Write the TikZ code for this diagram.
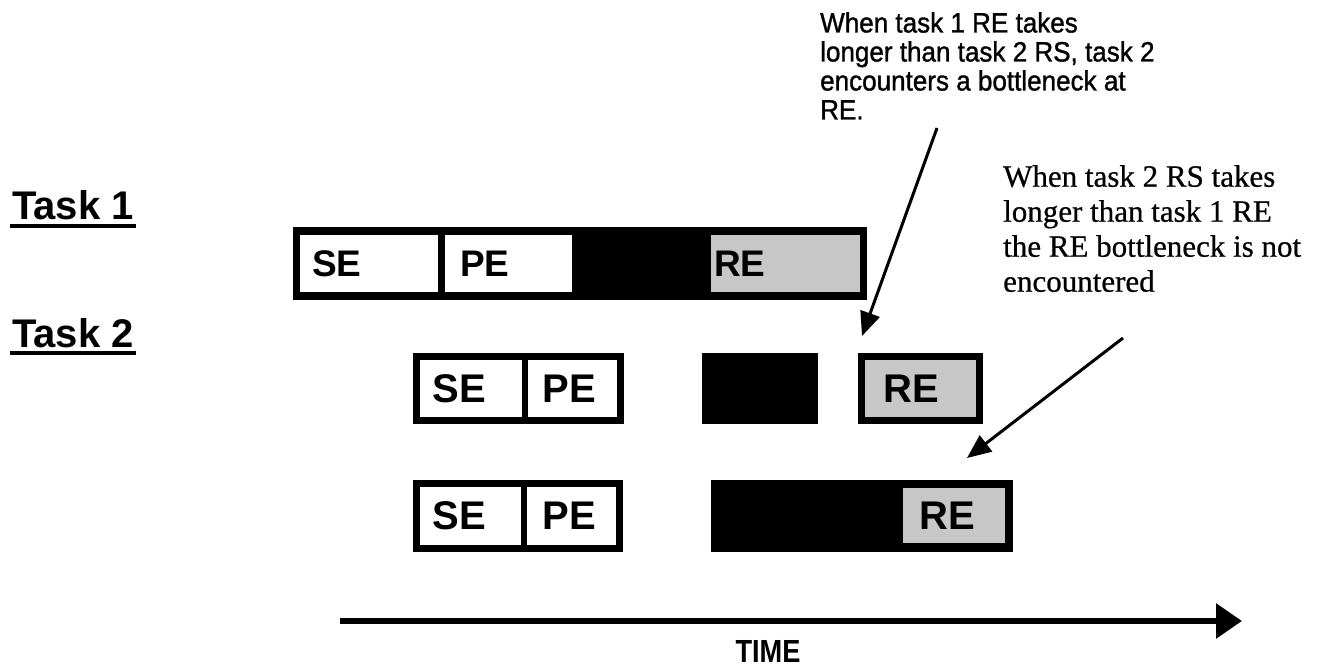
\documentclass[tikz,border=0pt]{standalone}
\usepackage{fontspec}
\setmainfont{Liberation Serif}
\setsansfont{Liberation Sans}
\newfontfamily\notefont[FakeStretch=0.93,FakeBold=1.2]{Liberation Sans}
\newfontfamily\noteserif[FakeBold=0.6]{Liberation Serif}
\newfontfamily\timefont[FakeStretch=0.85]{Liberation Sans}
\usetikzlibrary{arrows.meta}
\definecolor{regray}{gray}{0.78}
\begin{document}
\begin{tikzpicture}[x=1pt,y=-1pt,
  box/.style={fill=black, inner sep=0pt, outer sep=0pt},
  whitecell/.style={fill=white, inner sep=0pt, outer sep=0pt},
  recell/.style={fill=regray, inner sep=0pt, outer sep=0pt},
  lblA/.style={font=\sffamily\bfseries\fontsize{37}{37}\selectfont, inner sep=0pt},
  lblB/.style={font=\sffamily\bfseries\fontsize{40}{40}\selectfont, inner sep=0pt},
  tasklbl/.style={font=\sffamily\bfseries\fontsize{40}{40}\selectfont, inner sep=0pt, anchor=base west},
  pointer/.style={line width=3pt, -{Triangle[length=24pt,width=20pt]}},
]
\useasboundingbox (0,0) rectangle (1326,671);

% task labels
\node[tasklbl] (task1) at (12,220) {Task 1};
\draw[line width=4pt] ([yshift=-6pt,xshift=-2pt]task1.base west) -- ([yshift=-6pt,xshift=2pt]task1.base east);
\node[tasklbl] (task2) at (12,347) {Task 2};
\draw[line width=4pt] ([yshift=-6pt,xshift=-2pt]task2.base west) -- ([yshift=-6pt,xshift=2pt]task2.base east);

% task 1 bar
\node[box, minimum width=574pt, minimum height=73pt] (bar1) at (580,263.5) {};
\node[whitecell, minimum width=138pt, minimum height=57pt] (se1) at (369,263.5) {};
\node[whitecell, minimum width=127pt, minimum height=57pt] (pe1) at (508.5,263.5) {};
\node[recell, minimum width=149pt, minimum height=57pt] (re1) at (785.5,263.5) {};
\node[lblA, anchor=west] (se1t) at ([xshift=12pt]se1.west) {SE};
\node[lblA, anchor=west] (pe1t) at ([xshift=15pt]pe1.west) {PE};
\node[lblA, anchor=west] (re1t) at ([xshift=3pt]re1.west) {RE};

% row 2
\node[box, minimum width=211pt, minimum height=71pt] (sp2) at (518.5,388.5) {};
\node[whitecell, minimum width=102pt, minimum height=57pt] (se2) at (471,388.5) {};
\node[whitecell, minimum width=89pt, minimum height=57pt] (pe2) at (572.5,388.5) {};
\node[box, minimum width=116pt, minimum height=71pt] (rs2) at (760,388.5) {};
\node[box, minimum width=125pt, minimum height=71pt] (reo2) at (920.5,388.5) {};
\node[recell, minimum width=111pt, minimum height=57pt] (re2) at (920.5,388.5) {};
\node[lblB] (se2t) at (459,388.5) {SE};
\node[lblB] (pe2t) at (569,388.5) {PE};
\node[lblB] (re2t) at (911,388.5) {RE};

% row 3
\node[box, minimum width=210pt, minimum height=72pt] (sp3) at (518,516) {};
\node[whitecell, minimum width=101pt, minimum height=58pt] (se3) at (470.5,516) {};
\node[whitecell, minimum width=89pt, minimum height=58pt] (pe3) at (571.5,516) {};
\node[box, minimum width=302pt, minimum height=72pt] (rs3) at (862,516) {};
\node[recell, minimum width=102pt, minimum height=55pt] (re3) at (954,515.5) {};
\node[lblB] (se3t) at (459,516) {SE};
\node[lblB] (pe3t) at (569,516) {PE};
\node[lblB] (re3t) at (947,516) {RE};

% notes
\node[font={\notefont\fontsize{28}{29}\selectfont}, align=left, anchor=north west, inner sep=0pt] (note1) at (820,12)
  {When task 1 RE takes\\longer than task 2 RS, task 2\\encounters a bottleneck at\\RE.};
\node[font={\noteserif\fontsize{31}{35}\selectfont}, align=left, anchor=north west, inner sep=0pt] (note2) at (1003,165)
  {When task 2 RS takes\\longer than task 1 RE\\the RE bottleneck is not\\encountered};

% pointers
\coordinate (a1s) at (937,128);
\coordinate (a1e) at ([xshift=4pt,yshift=17pt]reo2.north west);
\draw[pointer] (a1s) -- (a1e);
\coordinate (a2s) at (1123,338);
\coordinate (a2e) at ([xshift=-46pt,yshift=22pt]rs3.north east);
\draw[pointer] (a2s) -- (a2e);

% time axis
\coordinate (t0) at (340,621);
\coordinate (t1) at (1242,621);
\draw[line width=6pt, -{Triangle[length=26pt,width=34pt]}] (t0) -- (t1);
\node[font={\timefont\bfseries\fontsize{32}{32}\selectfont}, inner sep=0pt] (time) at (768,651) {TIME};
\end{tikzpicture}
\end{document}
